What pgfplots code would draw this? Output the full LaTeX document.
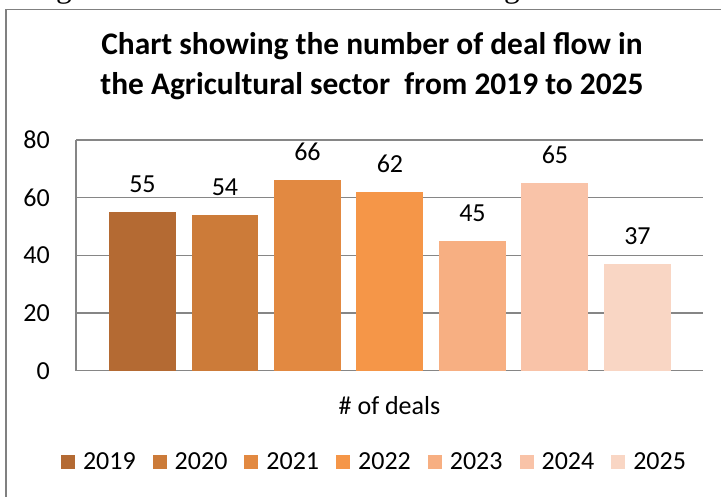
\documentclass[border=0pt]{standalone}
\usepackage{pgfplots}
\pgfplotsset{compat=1.18}
\usepackage{fontspec}
\setmainfont{Carlito}
\newfontfamily\serifcap{Liberation Serif}
\definecolor{c1}{RGB}{180,106,51}
\definecolor{c2}{RGB}{204,123,57}
\definecolor{c3}{RGB}{226,137,65}
\definecolor{c4}{RGB}{245,150,72}
\definecolor{c5}{RGB}{247,175,130}
\definecolor{c6}{RGB}{249,195,168}
\definecolor{c7}{RGB}{249,214,196}
\definecolor{gridc}{RGB}{134,134,134}
\definecolor{framec}{RGB}{128,128,128}
\newcommand{\lbl}{\fontsize{26bp}{31bp}\selectfont}
\begin{document}
\begin{tikzpicture}
\begin{scope}
\clip (0,0) rectangle (721bp,-497bp);
\fill[white] (0,0) rectangle (721bp,-497bp);
\draw[framec, line width=1.5bp] (6bp,-9.5bp) rectangle (760bp,-560bp);
\node[anchor=base west, inner sep=0pt, font=\serifcap\fontsize{31.5bp}{36bp}\selectfont] at (-35bp,2.5bp) {showing the number of deals flow in the Agricultural sector};
\end{scope}
\begin{axis}[
  at={(76bp,-370.7bp)}, anchor=south west,
  scale only axis, width=627bp, height=230.7bp,
  xmin=-0.806, xmax=6.794, ymin=0, ymax=80,
  enlargelimits=false,
  ytick={0,20,40,60,80}, xtick=\empty,
  ymajorgrids, grid style={gridc, line width=1.3bp},
  axis x line*=bottom, axis y line*=left,
  axis line style={gridc, line width=1.3bp, -},
  major tick length=0pt,
  /pgf/number format/assume math mode=true,
  yticklabel style={font=\lbl, anchor=east, inner sep=0pt, xshift=-26bp},
  xlabel={\# of deals},
  xlabel style={font=\lbl, at={(axis description cs:0.5,-0.192)}, anchor=base, inner sep=0pt},
  title={Chart showing the number of deal flow in\\the Agricultural sector\ \ from 2019 to 2025},
  title style={font=\bfseries\fontsize{31.4bp}{40bp}\selectfont, align=center, inner sep=0pt, at={(axis description cs:0.472,1.442)}, anchor=north},
  nodes near coords,
  every node near coord/.append style={font=\lbl, anchor=south, inner sep=0pt, yshift=19bp},
  legend columns=7,
  legend image code/.code={\fill[#1] (0bp,-7bp) rectangle (14bp,7bp);},
  legend style={draw=none, fill=none, inner sep=0pt, outer sep=0pt, row sep=0pt,
    at={(axis description cs:-0.0239,-0.3958)}, anchor=west,
    font=\lbl,
    nodes={inner sep=0pt},
    /tikz/every odd column/.style={column sep=8bp},
    /tikz/every even column/.style={column sep=17bp}},
]
\addplot[ybar, bar width=0.812, bar shift=0pt, fill=c1, draw=none] coordinates {(0,55)};
\addlegendentry{2019}
\addplot[ybar, bar width=0.812, bar shift=0pt, fill=c2, draw=none] coordinates {(1,54)};
\addlegendentry{2020}
\addplot[ybar, bar width=0.812, bar shift=0pt, fill=c3, draw=none] coordinates {(2,66)};
\addlegendentry{2021}
\addplot[ybar, bar width=0.812, bar shift=0pt, fill=c4, draw=none] coordinates {(3,62)};
\addlegendentry{2022}
\addplot[ybar, bar width=0.812, bar shift=0pt, fill=c5, draw=none] coordinates {(4,45)};
\addlegendentry{2023}
\addplot[ybar, bar width=0.812, bar shift=0pt, fill=c6, draw=none] coordinates {(5,65)};
\addlegendentry{2024}
\addplot[ybar, bar width=0.812, bar shift=0pt, fill=c7, draw=none] coordinates {(6,37)};
\addlegendentry{2025}
\end{axis}
\pgfresetboundingbox
\useasboundingbox (0,0) rectangle (721bp,-497bp);
\end{tikzpicture}
\end{document}
